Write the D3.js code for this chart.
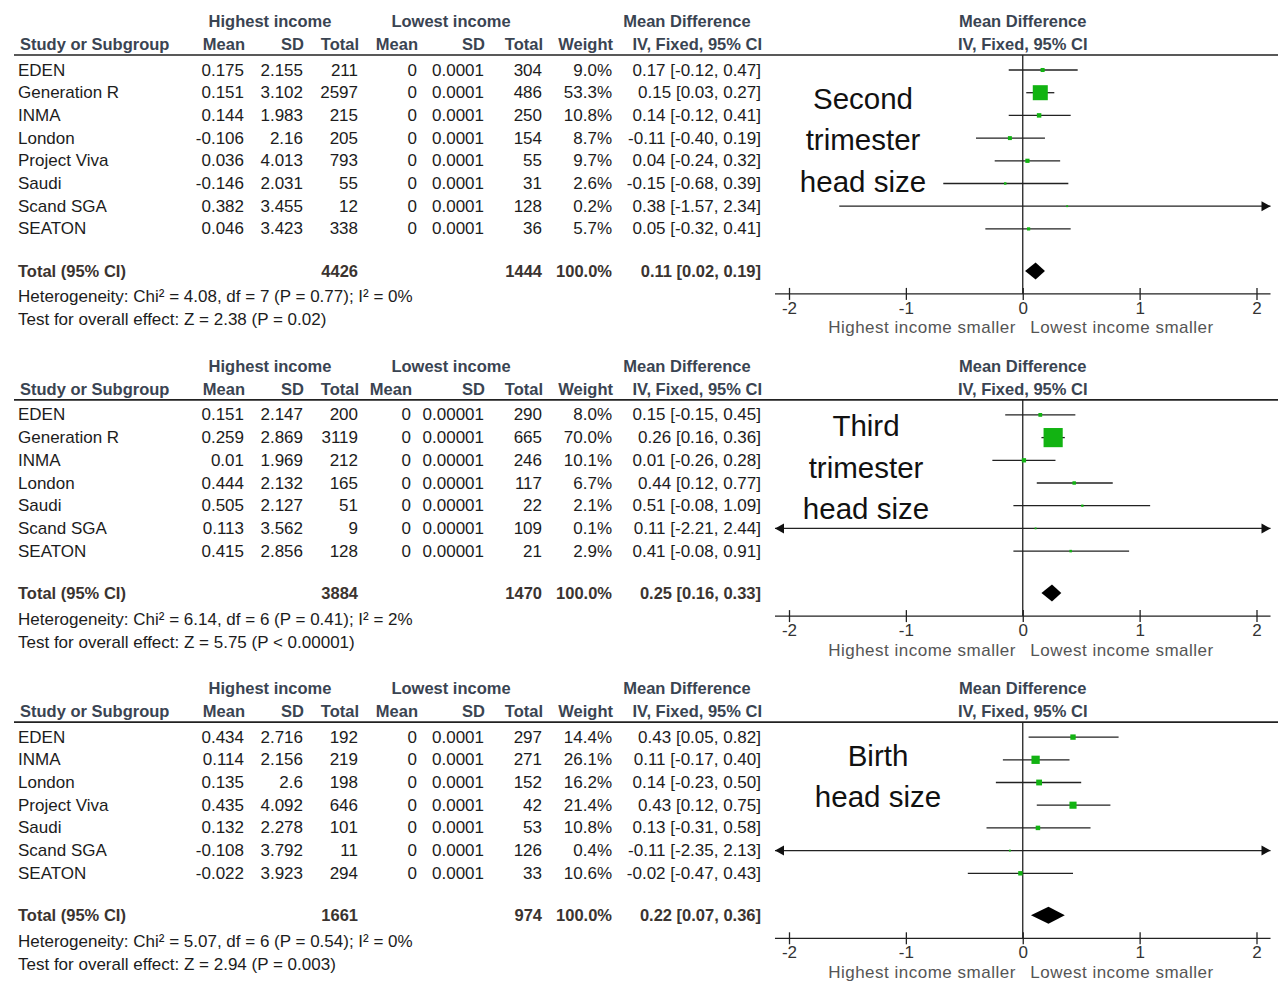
<!DOCTYPE html>
<html>
<head>
<meta charset="utf-8">
<script src="https://cdn.jsdelivr.net/npm/d3@7"></script>
<style>
  body { margin: 0; background: #fff; }
  svg { display: block; }
  text { font-family: "Liberation Sans", Arial, sans-serif; }
</style>
</head>
<body>
<svg id="chart"></svg>
<script>
// ---- Panel 1: second trimester head size ----
const studies1 = ["EDEN", "Generation R", "INMA", "London", "Project Viva", "Saudi", "Scand SGA", "SEATON"];
const hiMean1 = [0.175, 0.151, 0.144, -0.106, 0.036, -0.146, 0.382, 0.046];
const hiSD1 = [2.155, 3.102, 1.983, 2.16, 4.013, 2.031, 3.455, 3.423];
const hiN1 = [211, 2597, 215, 205, 793, 55, 12, 338];
const loMean1 = [0, 0, 0, 0, 0, 0, 0, 0];
const loSD1 = [0.0001, 0.0001, 0.0001, 0.0001, 0.0001, 0.0001, 0.0001, 0.0001];
const loN1 = [304, 486, 250, 154, 55, 31, 128, 36];
const weight1 = [9.0, 53.3, 10.8, 8.7, 9.7, 2.6, 0.2, 5.7];
const md1 = [0.17, 0.15, 0.14, -0.11, 0.04, -0.15, 0.38, 0.05];
const ciLo1 = [-0.12, 0.03, -0.12, -0.40, -0.24, -0.68, -1.57, -0.32];
const ciHi1 = [0.47, 0.27, 0.41, 0.19, 0.32, 0.39, 2.34, 0.41];
const total1 = [4426, 1444, 0.11, 0.02, 0.19];
const stats1 = ["Heterogeneity: Chi² = 4.08, df = 7 (P = 0.77); I² = 0%", "Test for overall effect: Z = 2.38 (P = 0.02)"];
const title1 = ["Second", "trimester", "head size"];

// ---- Panel 2: third trimester head size ----
const studies2 = ["EDEN", "Generation R", "INMA", "London", "Saudi", "Scand SGA", "SEATON"];
const hiMean2 = [0.151, 0.259, 0.01, 0.444, 0.505, 0.113, 0.415];
const hiSD2 = [2.147, 2.869, 1.969, 2.132, 2.127, 3.562, 2.856];
const hiN2 = [200, 3119, 212, 165, 51, 9, 128];
const loMean2 = [0, 0, 0, 0, 0, 0, 0];
const loSD2 = [0.00001, 0.00001, 0.00001, 0.00001, 0.00001, 0.00001, 0.00001];
const loN2 = [290, 665, 246, 117, 22, 109, 21];
const weight2 = [8.0, 70.0, 10.1, 6.7, 2.1, 0.1, 2.9];
const md2 = [0.15, 0.26, 0.01, 0.44, 0.51, 0.11, 0.41];
const ciLo2 = [-0.15, 0.16, -0.26, 0.12, -0.08, -2.21, -0.08];
const ciHi2 = [0.45, 0.36, 0.28, 0.77, 1.09, 2.44, 0.91];
const total2 = [3884, 1470, 0.25, 0.16, 0.33];
const stats2 = ["Heterogeneity: Chi² = 6.14, df = 6 (P = 0.41); I² = 2%", "Test for overall effect: Z = 5.75 (P < 0.00001)"];
const title2 = ["Third", "trimester", "head size"];

// ---- Panel 3: birth head size ----
const studies3 = ["EDEN", "INMA", "London", "Project Viva", "Saudi", "Scand SGA", "SEATON"];
const hiMean3 = [0.434, 0.114, 0.135, 0.435, 0.132, -0.108, -0.022];
const hiSD3 = [2.716, 2.156, 2.6, 4.092, 2.278, 3.792, 3.923];
const hiN3 = [192, 219, 198, 646, 101, 11, 294];
const loMean3 = [0, 0, 0, 0, 0, 0, 0];
const loSD3 = [0.0001, 0.0001, 0.0001, 0.0001, 0.0001, 0.0001, 0.0001];
const loN3 = [297, 271, 152, 42, 53, 126, 33];
const weight3 = [14.4, 26.1, 16.2, 21.4, 10.8, 0.4, 10.6];
const md3 = [0.43, 0.11, 0.14, 0.43, 0.13, -0.11, -0.02];
const ciLo3 = [0.05, -0.17, -0.23, 0.12, -0.31, -2.35, -0.47];
const ciHi3 = [0.82, 0.40, 0.50, 0.75, 0.58, 2.13, 0.43];
const total3 = [1661, 974, 0.22, 0.07, 0.36];
const stats3 = ["Heterogeneity: Chi² = 5.07, df = 6 (P = 0.54); I² = 0%", "Test for overall effect: Z = 2.94 (P = 0.003)"];
const title3 = ["Birth", "head size"];

const axisTicks = [-2, -1, 0, 1, 2];
const axisLabels = ["Highest income smaller", "Lowest income smaller"];
const colHeaders = ["Mean", "SD", "Total", "Mean", "SD", "Total", "Weight", "IV, Fixed, 95% CI"];

// build panel records from the arrays
function makePanel(studies, hm, hs, hn, lm, ls, ln, w, md, lo, hi, tot, stats, title) {
    return {
        rows: studies.map((s, i) => ({study: s, cells: [hm[i], hs[i], hn[i], lm[i], ls[i], ln[i]],
            weight: w[i], md: md[i], lo: lo[i], hi: hi[i]})),
        total: {hiN: tot[0], loN: tot[1], md: tot[2], lo: tot[3], hi: tot[4]},
        stats: stats, title: title
    };
}
const panels = [
    makePanel(studies1, hiMean1, hiSD1, hiN1, loMean1, loSD1, loN1, weight1, md1, ciLo1, ciHi1, total1, stats1, title1),
    makePanel(studies2, hiMean2, hiSD2, hiN2, loMean2, loSD2, loN2, weight2, md2, ciLo2, ciHi2, total2, stats2, title2),
    makePanel(studies3, hiMean3, hiSD3, hiN3, loMean3, loSD3, loN3, weight3, md3, ciLo3, ciHi3, total3, stats3, title3)
];

// layout
const W = 1278, H = 981;
const colX = [244, 303, 358, 417, 484, 542, 612, 761];   // right edges of table columns
const loMeanX = [417, 411, 417];                          // lowest-income Mean column shifts per panel
const rowH = 22.7;
const titleLayout = [{x: 863, y: 77}, {x: 866, y: 60}, {x: 878, y: 67}];
const headColor = "#3a4452", totColor = "#3b3430", textColor = "#1c1c1c";
const green = "#12b312";
const fsText = 17, fsBold = 16.5;

const svg = d3.select("#chart").attr("width", W).attr("height", H);
svg.append("rect").attr("width", W).attr("height", H).attr("fill", "#fff");

// forest scale
const x = d3.scaleLinear().domain([-2, 2]).range([789, 1256.5]);
const clip = 2.1, axisEnd = 2.12;
const boxSize = d3.scaleLinear().domain([0, 100]).range([1.8, 26.6]);
const fmt = v => v.toFixed(2);
const ci = (m, l, h) => `${fmt(m)} [${fmt(l)}, ${fmt(h)}]`;

let panelTop = 21;
panels.forEach((p, pi) => {
    const g = svg.append("g");
    const lineY = panelTop + 34;
    const rowY = i => panelTop + 49 + i * rowH;
    const totalY = rowY(p.rows.length - 1) + 42;
    const axisY = totalY + 23;
    const cols = colX.slice();
    cols[3] = loMeanX[pi];

    // group headers
    const hdr = (t, xx, yy, anchor) => g.append("text").attr("x", xx).attr("y", yy)
        .attr("text-anchor", anchor).attr("dominant-baseline", "central")
        .attr("font-size", fsBold).attr("font-weight", "bold").attr("fill", headColor).text(t);
    hdr("Highest income", 270, panelTop, "middle");
    hdr("Lowest income", 451, panelTop, "middle");
    hdr("Mean Difference", 687, panelTop, "middle");
    hdr("Mean Difference", x(0), panelTop, "middle");
    hdr("Study or Subgroup", 20, panelTop + 23, "start");
    colHeaders.forEach((c, i) => hdr(c, cols[i] + 1, panelTop + 23, "end"));
    hdr("IV, Fixed, 95% CI", x(0), panelTop + 23, "middle");

    g.append("line").attr("x1", 14).attr("x2", W).attr("y1", lineY).attr("y2", lineY)
        .attr("stroke", "#222").attr("stroke-width", 1.6);

    // study rows
    const rows = g.selectAll(".row").data(p.rows).enter().append("g")
        .attr("transform", (d, i) => `translate(0,${rowY(i)})`);
    rows.append("text").attr("x", 18).attr("dominant-baseline", "central")
        .attr("font-size", fsText).attr("fill", textColor).text(d => d.study);
    cols.forEach((cx, ci_) => {
        rows.append("text").attr("x", cx).attr("text-anchor", "end").attr("dominant-baseline", "central")
            .attr("font-size", fsText).attr("fill", textColor)
            .text(d => ci_ < 6 ? String(d.cells[ci_]) : ci_ === 6 ? d.weight.toFixed(1) + "%" : ci(d.md, d.lo, d.hi));
    });

    // total row
    const tot = (t, xx, anchor) => g.append("text").attr("x", xx).attr("y", totalY)
        .attr("text-anchor", anchor).attr("dominant-baseline", "central")
        .attr("font-size", fsBold).attr("font-weight", "bold").attr("fill", totColor).text(t);
    tot("Total (95% CI)", 18, "start");
    tot(p.total.hiN, cols[2], "end");
    tot(p.total.loN, cols[5], "end");
    tot("100.0%", cols[6], "end");
    tot(ci(p.total.md, p.total.lo, p.total.hi), cols[7], "end");

    p.stats.forEach((s, i) => g.append("text").attr("x", 18).attr("y", totalY + 26 + i * 23)
        .attr("dominant-baseline", "central").attr("font-size", fsText).attr("fill", textColor).text(s));

    // zero line
    g.append("line").attr("x1", x(0)).attr("x2", x(0)).attr("y1", lineY).attr("y2", axisY)
        .attr("stroke", "#222").attr("stroke-width", 1.3);

    // CI lines with arrows where clipped
    const plot = g.append("g");
    p.rows.forEach((d, i) => {
        const y = rowY(i);
        const l = Math.max(d.lo, -axisEnd), r = Math.min(d.hi, axisEnd);
        plot.append("line").attr("x1", x(l)).attr("x2", x(r)).attr("y1", y).attr("y2", y)
            .attr("stroke", "#222").attr("stroke-width", 1.3);
        if (d.hi > clip) plot.append("path").attr("d", `M${x(axisEnd)},${y}l-9,-5v10z`).attr("fill", "#111");
        if (d.lo < -clip) plot.append("path").attr("d", `M${x(-axisEnd)},${y}l9,-5v10z`).attr("fill", "#111");
    });
    plot.selectAll(".box").data(p.rows).enter().append("rect")
        .attr("x", d => x(d.md) - boxSize(d.weight) / 2)
        .attr("y", (d, i) => rowY(i) - boxSize(d.weight) / 2)
        .attr("width", d => boxSize(d.weight)).attr("height", d => boxSize(d.weight))
        .attr("fill", green);

    // pooled diamond
    const t = p.total;
    plot.append("path")
        .attr("d", `M${x(t.lo)},${totalY}L${x(t.md)},${totalY - 8.5}L${x(t.hi)},${totalY}L${x(t.md)},${totalY + 8.5}Z`)
        .attr("fill", "#000");

    // axis
    const ax = g.append("g").attr("transform", `translate(0,${axisY})`)
        .call(d3.axisBottom(x).tickValues(axisTicks).tickSize(6).tickFormat(d => String(d)));
    ax.select(".domain").remove();
    ax.selectAll(".tick line").attr("y1", -6).attr("y2", 6).attr("stroke", "#222").attr("stroke-width", 1.3);
    ax.selectAll(".tick text").attr("font-size", fsText).attr("fill", "#333").attr("y", 8)
        .attr("font-family", "Liberation Sans, Arial, sans-serif");
    g.append("line").attr("x1", x(-axisEnd)).attr("x2", x(axisEnd)).attr("y1", axisY).attr("y2", axisY)
        .attr("stroke", "#222").attr("stroke-width", 1.3);
    g.append("text").attr("x", 922).attr("y", axisY + 34).attr("text-anchor", "middle")
        .attr("dominant-baseline", "central").attr("font-size", fsText).attr("letter-spacing", 0.5)
        .attr("fill", "#555").text(axisLabels[0]);
    g.append("text").attr("x", 1122).attr("y", axisY + 34).attr("text-anchor", "middle")
        .attr("dominant-baseline", "central").attr("font-size", fsText).attr("letter-spacing", 0.5)
        .attr("fill", "#555").text(axisLabels[1]);

    // big panel title
    p.title.forEach((line, i) => g.append("text")
        .attr("x", titleLayout[pi].x).attr("y", panelTop + titleLayout[pi].y + i * 41.5)
        .attr("text-anchor", "middle").attr("dominant-baseline", "central")
        .attr("font-family", "Open Sans, sans-serif").attr("font-size", 29.5).attr("fill", "#111").text(line));

    panelTop = totalY + 95;
});
</script>
</body>
</html>
